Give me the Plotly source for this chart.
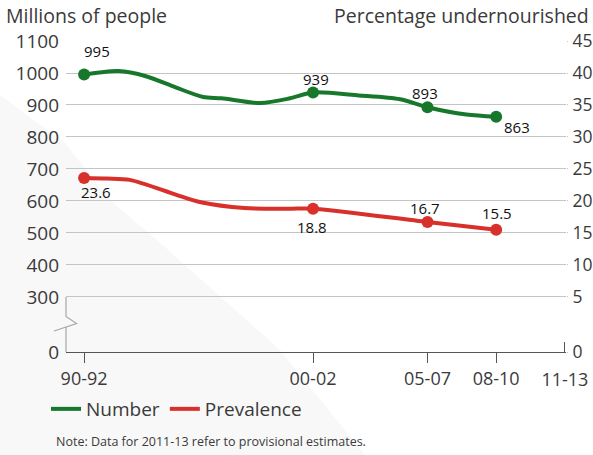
import plotly.graph_objects as go

# ---------------- data ----------------
period_labels = ["90-92", "00-02", "05-07", "08-10", "11-13"]
period_years = [1991, 2001, 2006, 2009, 2012]

# Number of undernourished (millions) - smooth annual curve
number_years = [1991, 1992.5, 1993.7, 1995, 1996.2, 1997, 1998.7, 2000, 2001, 2003, 2004.8, 2006, 2007.7, 2009]
number_vals = [995, 1006, 990, 955, 925, 921, 906, 921, 939, 930, 918, 893, 870, 863]
number_mark_years = [1991, 2001, 2006, 2009]
number_mark_vals = [995, 939, 893, 863]

# Prevalence (% undernourished)
prev_years = [1991, 1992, 1993, 1995, 1996.1, 1998, 2000, 2001, 2006, 2009]
prev_vals = [23.6, 23.5, 23.3, 21.0, 19.8, 18.9, 18.8, 18.8, 16.7, 15.5]
prev_mark_years = [1991, 2001, 2006, 2009]
prev_mark_vals = [23.6, 18.8, 16.7, 15.5]

left_ticks = [300, 400, 500, 600, 700, 800, 900, 1000, 1100]
right_ticks = [5, 10, 15, 20, 25, 30, 35, 40, 45]

# ---------------- styling ----------------
GREEN = "#17782c"
RED = "#d8302a"
FONT = "Open Sans"
TXT = "#3a3a3a"
W, H = 593, 455
ML, MR, MT, MB = 66, 27, 41, 103
PW, PH = W - ML - MR, H - MT - MB
AX_BOTTOM = 128  # display value where the broken axis reaches "0"
AX_TOP = 1100
# right axis maps 5 -> 300 and 45 -> 1100 on display
r_scale = (1100 - 300) / (45 - 5)
r_bottom = 5 + (AX_BOTTOM - 300) / r_scale


def px_x(p):
    return (p - ML) / PW


def px_y(p):
    return (H - MB - p) / PH


fig = go.Figure()

fig.add_trace(go.Scatter(x=number_years, y=number_vals, mode="lines",
                         line=dict(color=GREEN, width=4, shape="spline", smoothing=0.8),
                         name="Number", showlegend=True, cliponaxis=False))
fig.add_trace(go.Scatter(x=number_mark_years, y=number_mark_vals, mode="markers",
                         marker=dict(color=GREEN, size=12), showlegend=False, cliponaxis=False))
fig.add_trace(go.Scatter(x=prev_years, y=prev_vals, mode="lines", yaxis="y2",
                         line=dict(color=RED, width=4, shape="spline", smoothing=0.8),
                         name="Prevalence", showlegend=True, cliponaxis=False))
fig.add_trace(go.Scatter(x=prev_mark_years, y=prev_mark_vals, mode="markers", yaxis="y2",
                         marker=dict(color=RED, size=12), showlegend=False, cliponaxis=False))
# invisible trace to host upward tick at 11-13
fig.add_trace(go.Scatter(x=[period_years[-1]], y=[None], xaxis="x2", showlegend=False,
                         hoverinfo="skip"))

annotations = []
num_offsets = [(13, 24), (3, 14), (-2, 14), (21, -10)]
for xv, yv, (dx, dy_) in zip(number_mark_years, number_mark_vals, num_offsets):
    annotations.append(dict(x=xv, y=yv, xref="x", yref="y", text=str(yv), showarrow=False,
                            xshift=dx, yshift=dy_, font=dict(family=FONT, size=15, color="#111")))
prev_offsets = [(12, -14), (-1, -18), (-2, 14), (1, 17)]
for xv, yv, (dx, dy_) in zip(prev_mark_years, prev_mark_vals, prev_offsets):
    annotations.append(dict(x=xv, y=yv, xref="x", yref="y2", text=str(yv), showarrow=False,
                            xshift=dx, yshift=dy_, font=dict(family=FONT, size=15, color="#111")))

annotations += [
    dict(x=px_x(4), y=px_y(16), xref="paper", yref="paper", text="Millions of people",
         showarrow=False, xanchor="left", yanchor="middle",
         font=dict(family=FONT, size=19.5, color=TXT)),
    dict(x=px_x(591), y=px_y(16), xref="paper", yref="paper", text="Percentage undernourished",
         showarrow=False, xanchor="right", yanchor="middle",
         font=dict(family=FONT, size=19.5, color=TXT)),
    dict(x=px_x(54), y=px_y(441), xref="paper", yref="paper",
         text="Note: Data for 2011-13 refer to provisional estimates.",
         showarrow=False, xanchor="left", yanchor="middle",
         font=dict(family=FONT, size=12.5, color=TXT)),
]


def dy(p):
    return 300 - (p - (MT + (AX_TOP - 300) * PH / (AX_TOP - AX_BOTTOM))) * (AX_TOP - AX_BOTTOM) / PH


shapes = [
    # faint background diagonal shading
    dict(type="path", xref="paper", yref="paper", layer="below",
         path="M {},{} L {},{} L {},{} L {},{} L {},{} L {},{} L {},{} Z".format(
             px_x(0), px_y(95), px_x(65), px_y(143), px_x(110), px_y(200), px_x(157), px_y(240),
             px_x(280), px_y(350), px_x(365), px_y(455), px_x(0), px_y(455)),
         fillcolor="#f8f8f8", line=dict(width=0)),
    # broken left axis
    dict(type="path", xref="paper", yref="y", layer="above",
         path="M 0,300 L 0,{} L {},{} L {},{} M 0,{} L 0,{}".format(
             dy(316.5), px_x(76.5), dy(323.5), px_x(54), dy(331), dy(327.5), AX_BOTTOM),
         line=dict(color="#a8a8a8", width=1.2)),
]

fig.update_layout(
    width=W, height=H,
    margin=dict(l=ML, r=MR, t=MT, b=MB, pad=0),
    paper_bgcolor="white", plot_bgcolor="rgba(0,0,0,0)",
    font=dict(family=FONT, color=TXT),
    showlegend=True,
    legend=dict(orientation="h", x=px_x(46), y=px_y(409), xanchor="left", yanchor="middle",
                font=dict(family=FONT, size=19, color=TXT), bgcolor="rgba(0,0,0,0)",
                itemwidth=30, tracegroupgap=0),
    xaxis=dict(range=[1990.21, 2012.05], tickvals=period_years[:-1], ticktext=period_labels[:-1],
               ticks="outside", ticklen=10, tickcolor="#555", tickwidth=1, automargin=False,
               showgrid=False, zeroline=False, showline=True, linecolor="#555", linewidth=1,
               tickfont=dict(family=FONT, size=18, color=TXT)),
    xaxis2=dict(range=[1990.21, 2012.05], overlaying="x", side="bottom", anchor="y",
                tickvals=[period_years[-1]], ticktext=[period_labels[-1]], automargin=False,
                ticks="inside", ticklen=10, tickcolor="#555", tickwidth=1,
                showgrid=False, zeroline=False, showline=False,
                tickfont=dict(family=FONT, size=18, color=TXT), ticklabelstandoff=15),
    yaxis=dict(range=[AX_BOTTOM, AX_TOP], tickvals=[AX_BOTTOM] + left_ticks,
               ticktext=["0"] + [str(v) for v in left_ticks], automargin=False,
               showgrid=True, gridcolor="#c4c4c4", gridwidth=1, zeroline=False, showline=False,
               ticks="", ticklabelstandoff=6, tickfont=dict(family=FONT, size=19, color=TXT)),
    yaxis2=dict(range=[r_bottom, 45], overlaying="y", side="right", automargin=False,
                tickvals=[r_bottom] + right_ticks, ticktext=["0"] + [str(v) for v in right_ticks],
                showgrid=False, zeroline=False, showline=False, ticks="outside", ticklen=1,
                tickcolor="#c4c4c4", ticklabelstandoff=1,
                tickfont=dict(family=FONT, size=17.5, color=TXT)),
    annotations=annotations,
    shapes=shapes,
)

fig.write_html("out.html")
